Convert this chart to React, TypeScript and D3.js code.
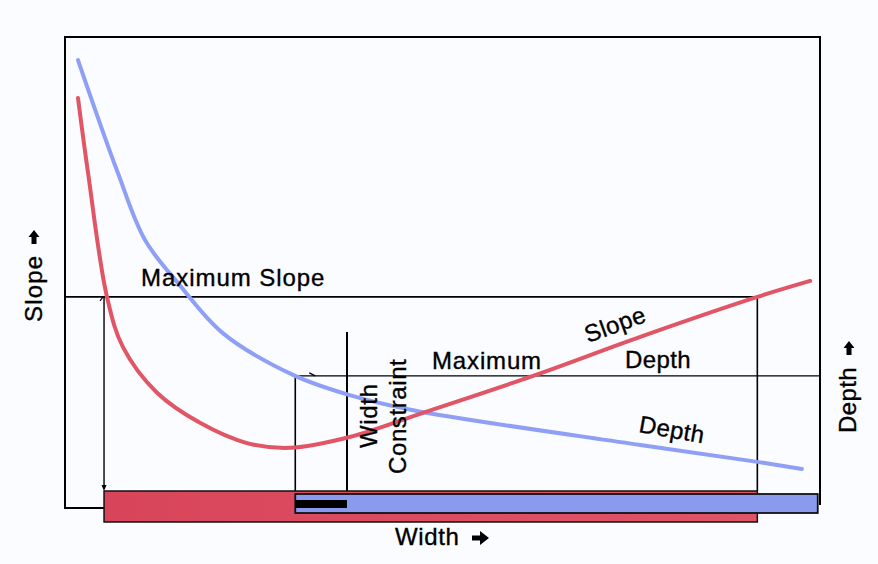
import React from "react";
import * as d3 from "d3";

// Width (x, 0..100) vs value (y, 0..100)
const depthWidth = [1.72, 7.0, 10.6, 15.2, 20.9, 30.2, 37.7, 46.1, 76.2, 91.7, 97.6];
const depthValue = [95.1, 71.1, 56.8, 47.2, 37.0, 28.1, 23.8, 20.6, 13.2, 9.6, 8.1];
const slopeWidth = [1.72, 3.05, 5.56, 7.68, 12.19, 17.88, 24.1, 29.8, 37.7, 47.7, 62.0, 76.2, 91.7, 98.7];
const slopeValue = [87.0, 71.1, 44.7, 34.0, 24.3, 17.9, 13.6, 12.6, 14.9, 20.2, 27.9, 36.2, 44.7, 48.1];

const maxSlope = 44.7;
const maxDepth = 27.9;
const widthAtMaxSlope = 5.17;
const widthAtSlopeLimit = 91.7;
const widthAtDepthLimit = 30.5;
const widthConstraint = 37.35;
const widthMax = 99.7;

const W = 878;
const H = 564;
const FONT = "'Liberation Sans', Arial, Helvetica, sans-serif";
const RED = "#e15565";
const BLUE = "#8e9ff5";
const BLUE_BAR = "#8a9bef";

export default function App() {
  const x = d3.scaleLinear().domain([0, 100]).range([65, 820]);
  const y = d3.scaleLinear().domain([0, 100]).range([507, 37]);

  const line = d3
    .line<[number, number]>()
    .x((d) => x(d[0]))
    .y((d) => y(d[1]))
    .curve(d3.curveCatmullRom.alpha(0.5));

  const depthPts = depthWidth.map((w, i) => [w, depthValue[i]] as [number, number]);
  const slopePts = slopeWidth.map((w, i) => [w, slopeValue[i]] as [number, number]);

  const x0 = x(0);
  const x100 = x(100);
  const yTop = y(100);
  const yBase = 508;

  const redBarTop = 491, redBarBot = 522;
  const blueBarTop = 494, blueBarBot = 513;
  const blackTop = 500, blackBot = 508;

  const ySlope = y(maxSlope);
  const yDepth = y(maxDepth);

  const upArrow = (cx: number, cy: number) => (
    <path
      d={`M${cx},${cy - 8} L${cx - 5.5},${cy - 1} L${cx - 2.5},${cy - 1} L${cx - 2.5},${cy + 6} L${cx + 2.5},${cy + 6} L${cx + 2.5},${cy - 1} L${cx + 5.5},${cy - 1} Z`}
      fill="#000"
    />
  );

  return (
    <svg
      width={W}
      height={H}
      style={{ position: "absolute", left: 0, top: 0, background: "#fbfcff" }}
      fontFamily={FONT}
    >
      <rect x={0} y={0} width={W} height={H} fill="#fbfcff" />
      <defs>
        <linearGradient id="redg" x1="0" x2="1" y1="0" y2="0">
          <stop offset="0" stopColor="#d8455a" />
          <stop offset="1" stopColor="#e05468" />
        </linearGradient>
      </defs>

      {/* frame */}
      <path
        d={`M${x100},${redBarTop + 14} L${x100},${yTop} L${x0},${yTop} L${x0},${yBase} L${x(widthAtMaxSlope)},${yBase}`}
        fill="none"
        stroke="#000"
        strokeWidth={2}
      />

      {/* maximum slope guide */}
      <path
        d={`M${x0},${ySlope} L${x(widthAtSlopeLimit)},${ySlope} L${x(widthAtSlopeLimit)},${redBarTop}`}
        fill="none"
        stroke="#000"
        strokeWidth={1.6}
      />
      <line x1={x(widthAtMaxSlope)} x2={x(widthAtMaxSlope)} y1={ySlope} y2={redBarTop - 2} stroke="#000" strokeWidth={1.4} />
      <path d={`M${x(widthAtMaxSlope) - 2.5},${redBarTop - 6} L${x(widthAtMaxSlope) + 2.5},${redBarTop - 6} L${x(widthAtMaxSlope)},${redBarTop}Z`} fill="#000" />
      <path d={`M${x(widthAtMaxSlope) - 4},${ySlope + 4} L${x(widthAtMaxSlope) - 1},${ySlope}`} stroke="#000" strokeWidth={1.2} />

      {/* maximum depth guide */}
      <line x1={x(widthAtDepthLimit)} x2={x100} y1={yDepth} y2={yDepth} stroke="#000" strokeWidth={1.4} />
      <line x1={x(widthAtDepthLimit)} x2={x(widthAtDepthLimit)} y1={yDepth} y2={blueBarBot} stroke="#000" strokeWidth={1.6} />
      <path d={`M${x(widthAtDepthLimit) + 14},${yDepth - 3} L${x(widthAtDepthLimit) + 20},${yDepth}`} stroke="#000" strokeWidth={1.2} />

      {/* width constraint */}
      <line x1={x(widthConstraint)} x2={x(widthConstraint)} y1={332} y2={blackBot} stroke="#000" strokeWidth={2} />

      {/* bars */}
      <rect
        x={x(widthAtMaxSlope)}
        y={redBarTop}
        width={x(widthAtSlopeLimit) - x(widthAtMaxSlope)}
        height={redBarBot - redBarTop}
        fill="url(#redg)"
        stroke="#111"
        strokeWidth={1.5}
      />
      <rect
        x={x(widthAtDepthLimit)}
        y={blueBarTop}
        width={x(widthMax) - x(widthAtDepthLimit)}
        height={blueBarBot - blueBarTop}
        fill={BLUE_BAR}
        stroke="#111"
        strokeWidth={1.8}
      />
      <rect
        x={x(widthAtDepthLimit)}
        y={blackTop}
        width={x(widthConstraint) - x(widthAtDepthLimit)}
        height={blackBot - blackTop}
        fill="#000"
      />

      {/* curves */}
      <path d={line(depthPts) || ""} fill="none" stroke={BLUE} strokeWidth={4} strokeLinecap="round" />
      <path d={line(slopePts) || ""} fill="none" stroke={RED} strokeWidth={4} strokeLinecap="round" />

      {/* labels */}
      <g fontSize={24} fill="#000" stroke="#000" strokeWidth={0.35}>
        <text x={141} y={286} letterSpacing={0.95}>Maximum Slope</text>
        <text x={432} y={369} letterSpacing={0.85}>Maximum</text>
        <text x={625} y={368} letterSpacing={0.4}>Depth</text>
        <text transform="translate(588,343) rotate(-20)" letterSpacing={0.4}>Slope</text>
        <text transform="translate(638,432) rotate(10)" letterSpacing={0.4}>Depth</text>
        <text transform="translate(377,448) rotate(-90)" letterSpacing={0.6}>Width</text>
        <text transform="translate(406,474) rotate(-90)" letterSpacing={0.6}>Constraint</text>
        <text x={395} y={545} letterSpacing={0.6}>Width</text>
        <text transform="translate(42,322) rotate(-90)" letterSpacing={1.2}>Slope</text>
        <text transform="translate(856,433) rotate(-90)" letterSpacing={0.4}>Depth</text>
      </g>

      {/* arrows */}
      <path d="M472,535.5 L480,535.5 L480,531 L489,538 L480,545 L480,540.5 L472,540.5 Z" fill="#000" />
      <g transform="translate(34,238)">{upArrow(0, 0)}</g>
      <g transform="translate(849,349)">{upArrow(0, 0)}</g>
    </svg>
  );
}
